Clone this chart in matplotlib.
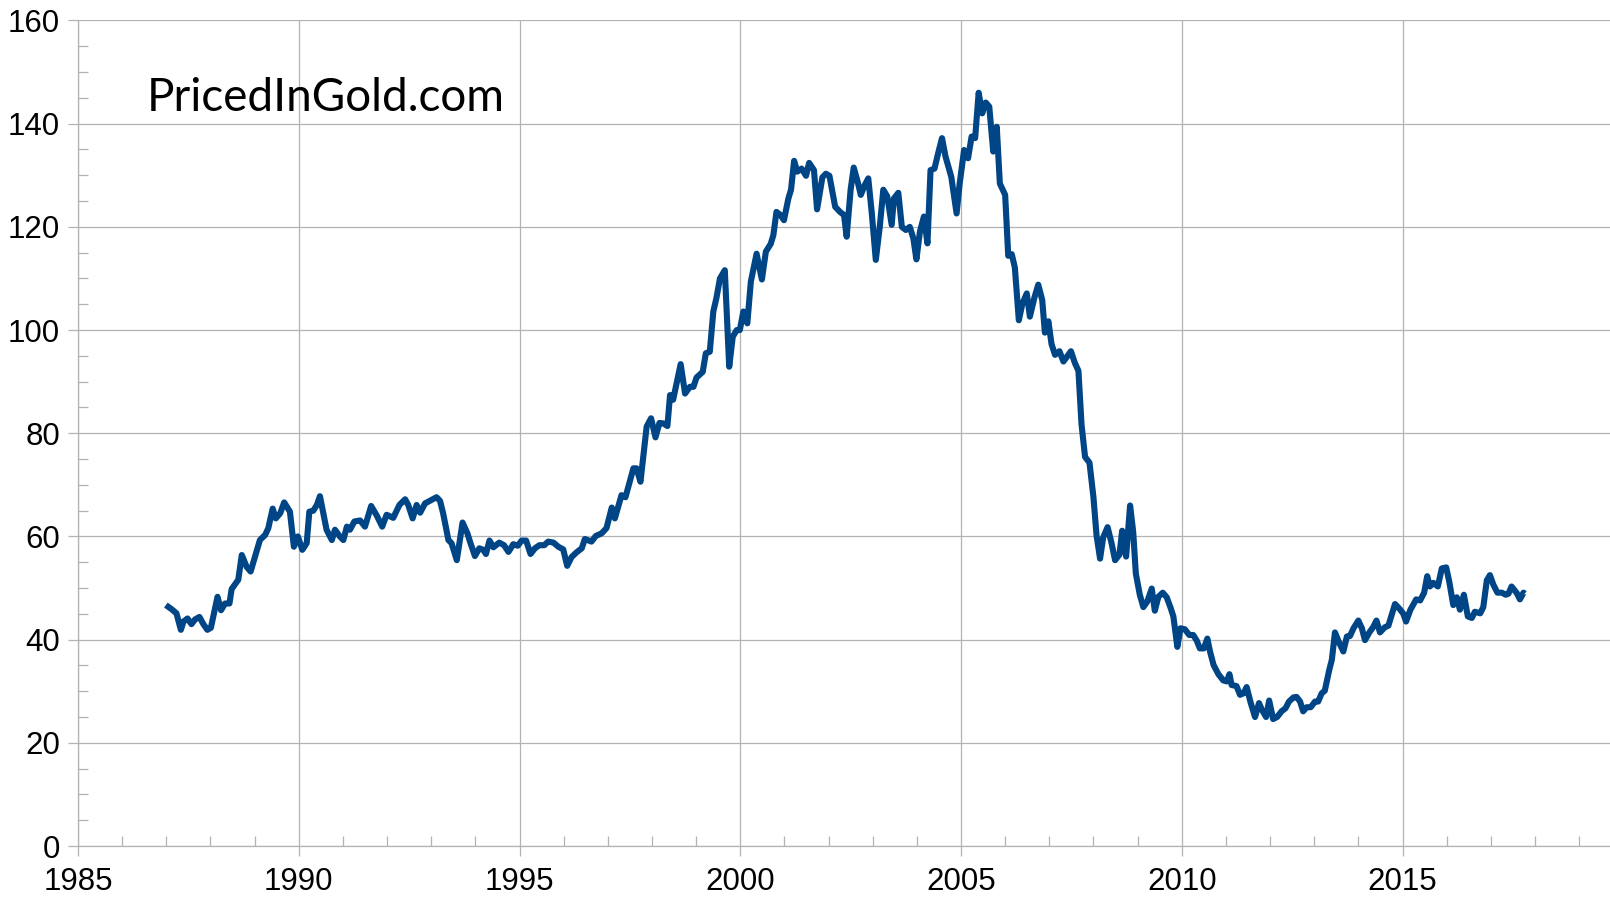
import numpy as np
import matplotlib.pyplot as plt
from matplotlib.ticker import MultipleLocator

# values (year, ratio)
years = [
    1986.99, 1987.12, 1987.23, 1987.33, 1987.39, 1987.48, 1987.57, 1987.65, 1987.75, 1987.84,
    1987.93, 1988.01, 1988.16, 1988.24, 1988.33, 1988.43, 1988.48, 1988.63, 1988.71, 1988.82,
    1988.91, 1989.12, 1989.24, 1989.31, 1989.41, 1989.48, 1989.58, 1989.67, 1989.80, 1989.89,
    1989.98, 1990.08, 1990.18, 1990.24, 1990.33, 1990.41, 1990.48, 1990.63, 1990.75, 1990.82,
    1990.93, 1991.01, 1991.09, 1991.16, 1991.26, 1991.39, 1991.50, 1991.64, 1991.77, 1991.89,
    1991.99, 1992.14, 1992.28, 1992.41, 1992.48, 1992.58, 1992.67, 1992.75, 1992.86, 1993.01,
    1993.12, 1993.20, 1993.27, 1993.39, 1993.46, 1993.58, 1993.71, 1993.82, 1993.89, 1993.99,
    1994.09, 1994.18, 1994.24, 1994.32, 1994.41, 1994.54, 1994.65, 1994.75, 1994.86, 1994.96,
    1995.05, 1995.15, 1995.25, 1995.35, 1995.45, 1995.56, 1995.65, 1995.77, 1995.88, 1995.99,
    1996.08, 1996.18, 1996.29, 1996.41, 1996.48, 1996.63, 1996.73, 1996.86, 1996.97,
    1997.09, 1997.16, 1997.31, 1997.40, 1997.58, 1997.65, 1997.74, 1997.88, 1997.98, 1998.08,
    1998.17, 1998.26, 1998.35, 1998.41, 1998.48, 1998.65, 1998.75, 1998.86, 1998.94, 1999.01,
    1999.15, 1999.22, 1999.31, 1999.39, 1999.46, 1999.54, 1999.65, 1999.75, 1999.83, 1999.92,
    1999.99,
    2000.07, 2000.16, 2000.24, 2000.37, 2000.49, 2000.58, 2000.69, 2000.75, 2000.82, 2000.91,
    2000.99, 2001.09, 2001.15, 2001.22, 2001.29, 2001.39, 2001.49, 2001.56, 2001.67, 2001.74,
    2001.86, 2001.94, 2002.02, 2002.15, 2002.26, 2002.35, 2002.41, 2002.50, 2002.57, 2002.67,
    2002.73, 2002.82, 2002.90, 2002.98, 2003.07, 2003.16, 2003.24, 2003.33, 2003.43, 2003.48,
    2003.58, 2003.66, 2003.75, 2003.84, 2003.92, 2003.99, 2004.07, 2004.16, 2004.24, 2004.31,
    2004.40, 2004.48, 2004.57, 2004.65, 2004.78, 2004.90, 2004.97, 2005.07, 2005.16, 2005.24,
    2005.32, 2005.40, 2005.48, 2005.56, 2005.64, 2005.73, 2005.81, 2005.88,
    2006.00, 2006.07, 2006.15, 2006.22, 2006.31, 2006.39, 2006.49, 2006.56, 2006.66, 2006.75,
    2006.84, 2006.90, 2006.98, 2007.05, 2007.13, 2007.23, 2007.32, 2007.49, 2007.58, 2007.66,
    2007.73, 2007.81, 2007.91, 2008.00, 2008.07, 2008.15, 2008.22, 2008.32, 2008.41, 2008.49,
    2008.59, 2008.65, 2008.74, 2008.83, 2008.90, 2008.96, 2009.05,
    2009.13, 2009.22, 2009.32, 2009.39, 2009.47, 2009.57, 2009.66, 2009.75, 2009.81, 2009.90,
    2009.97, 2010.07, 2010.17, 2010.26, 2010.34, 2010.41, 2010.50, 2010.58, 2010.64, 2010.72,
    2010.83, 2010.94, 2011.02, 2011.08, 2011.13, 2011.24, 2011.32, 2011.40, 2011.47, 2011.56,
    2011.66, 2011.75, 2011.81, 2011.91, 2011.98, 2012.07, 2012.16, 2012.26, 2012.35, 2012.43,
    2012.53, 2012.60, 2012.68, 2012.75, 2012.83, 2012.92, 2013.02, 2013.09, 2013.17, 2013.24,
    2013.34, 2013.40, 2013.47, 2013.56, 2013.66, 2013.74, 2013.81, 2013.89, 2014.00, 2014.08,
    2014.15, 2014.25, 2014.34, 2014.41, 2014.49, 2014.60, 2014.68, 2014.83, 2014.94, 2015.02,
    2015.08, 2015.18, 2015.31, 2015.40, 2015.49, 2015.56, 2015.62, 2015.70, 2015.80, 2015.89,
    2015.99, 2016.06, 2016.15, 2016.23, 2016.30, 2016.39, 2016.48, 2016.57, 2016.64, 2016.76,
    2016.83, 2016.91, 2016.98, 2017.06, 2017.15, 2017.25, 2017.34, 2017.40, 2017.47, 2017.59,
    2017.66, 2017.74, 2017.77,
]
values = [
    46.7, 45.9, 45.1, 41.9, 43.5, 44.1, 43.0, 43.9, 44.4, 43.0,
    41.9, 42.3, 48.3, 45.7, 47.0, 47.0, 49.8, 51.6, 56.4, 54.1,
    53.2, 59.3, 60.3, 61.6, 65.4, 63.5, 64.5, 66.6, 64.8, 58.0,
    60.0, 57.4, 58.7, 64.8, 65.0, 66.1, 67.8, 61.3, 59.3, 61.3,
    60.0, 59.3, 61.9, 61.3, 62.9, 63.1, 61.9, 65.9, 64.0, 61.9,
    64.2, 63.6, 66.1, 67.2, 66.1, 63.5, 66.1, 64.6, 66.4, 67.1,
    67.6, 66.9, 64.5, 59.3, 58.7, 55.4, 62.7, 60.6, 58.7, 56.2,
    57.7, 57.4, 56.6, 59.2, 57.9, 58.8, 58.3, 57.0, 58.5, 58.2,
    59.2, 59.2, 56.6, 57.7, 58.3, 58.3, 59.0, 58.8, 58.0, 57.5,
    54.3, 56.0, 56.9, 57.7, 59.5, 59.0, 60.1, 60.6, 61.6,
    65.6, 63.5, 68.0, 67.6, 73.2, 73.2, 70.6, 81.3, 82.9, 79.2,
    82.0, 81.9, 81.4, 87.4, 86.5, 93.4, 87.7, 89.0, 89.0, 90.8,
    91.9, 95.5, 95.8, 103.6, 106.2, 110.0, 111.6, 92.9, 98.7, 100.0,
    100.0,
    103.6, 101.3, 109.4, 114.8, 109.8, 115.2, 116.7, 118.4, 122.9, 122.3,
    121.3, 125.5, 127.2, 132.8, 130.7, 131.3, 129.9, 132.4, 131.0, 123.4,
    129.6, 130.3, 129.9, 123.9, 122.9, 122.3, 118.1, 127.2, 131.5, 128.4,
    126.2, 128.1, 129.4, 122.6, 113.6, 120.0, 127.2, 125.9, 120.4, 125.5,
    126.6, 120.0, 119.4, 120.0, 117.8, 113.7, 119.1, 122.0, 116.8, 131.0,
    131.3, 134.2, 137.2, 133.6, 129.7, 122.6, 128.4, 134.9, 133.3, 137.5,
    137.2, 146.0, 142.0, 144.1, 143.3, 134.6, 139.4, 128.4,
    126.2, 114.4, 114.7, 112.1, 101.9, 105.1, 107.1, 102.6, 106.2, 108.8,
    105.8, 99.5, 101.7, 97.3, 95.2, 95.9, 93.9, 95.9, 93.6, 92.1,
    81.7, 75.4, 74.3, 67.6, 60.2, 55.7, 59.8, 61.8, 58.7, 55.4,
    56.5, 61.1, 56.1, 66.0, 60.9, 52.8, 48.7,
    46.3, 47.4, 49.9, 45.6, 48.3, 49.1, 48.2, 46.1, 44.5, 38.6,
    42.2, 42.0, 40.9, 40.9, 39.8, 38.3, 38.3, 40.2, 37.7, 35.1,
    33.3, 32.1, 31.9, 33.3, 31.2, 31.0, 29.3, 29.6, 30.8, 27.8,
    25.0, 27.7, 26.5, 25.0, 28.2, 24.6, 25.0, 26.1, 26.7, 28.0,
    28.8, 28.9, 28.0, 26.1, 26.9, 26.9, 28.0, 28.0, 29.6, 30.1,
    34.1, 36.1, 41.4, 39.5, 37.7, 40.6, 40.7, 42.2, 43.7, 42.2,
    39.9, 41.4, 42.5, 43.7, 41.4, 42.4, 42.7, 46.9, 45.9, 45.0,
    43.5, 45.8, 47.8, 47.6, 49.1, 52.3, 50.3, 51.0, 50.3, 53.8,
    54.0, 51.2, 46.7, 48.2, 45.8, 48.7, 44.5, 44.2, 45.4, 45.1,
    46.3, 51.5, 52.5, 50.6, 49.1, 49.1, 48.7, 48.9, 50.3, 49.0,
    47.8, 49.1, 48.9,
]

x_ticks = [1985, 1990, 1995, 2000, 2005, 2010, 2015]
y_ticks = [0, 20, 40, 60, 80, 100, 120, 140, 160]

plt.rcParams['font.family'] = ['Liberation Sans Narrow', 'Liberation Sans', 'DejaVu Sans']

W, H = 1610, 897
fig = plt.figure(figsize=(W / 100, H / 100), dpi=100)
ax = fig.add_axes([78 / W, 51 / H, (W - 78) / W, (846 - 20.5) / H])

grid_c = '#b3b3b3'
ax.plot(years, values, color='#004586', lw=4.4, solid_joinstyle='round',
        solid_capstyle='butt', zorder=3)

ax.set_xlim(1985, 1985 + (W - 78) / 44.15)
ax.set_ylim(0, 160)
ax.set_xticks(x_ticks)
ax.set_yticks(y_ticks)
ax.xaxis.set_minor_locator(MultipleLocator(1))
ax.yaxis.set_minor_locator(MultipleLocator(5))
ax.grid(True, which='major', color=grid_c, lw=0.9)

for s in ['top', 'right']:
    ax.spines[s].set_visible(False)
for s in ['left', 'bottom']:
    ax.spines[s].set_color(grid_c)
    ax.spines[s].set_linewidth(0.9)

ax.tick_params(which='major', direction='out', length=7, width=0.9, color=grid_c,
               labelsize=22.5, labelcolor='black')
ax.tick_params(axis='x', which='major', pad=8)
ax.tick_params(axis='y', which='major', pad=6)
ax.tick_params(which='minor', direction='in', length=7, width=0.9, color=grid_c)

fig.text(147 / W, 1 - 111 / H, 'PricedInGold.com', fontsize=33,
         family=['Lato', 'DejaVu Sans'], color='black',
         ha='left', va='baseline')

fig.savefig('out.png', dpi=100)
